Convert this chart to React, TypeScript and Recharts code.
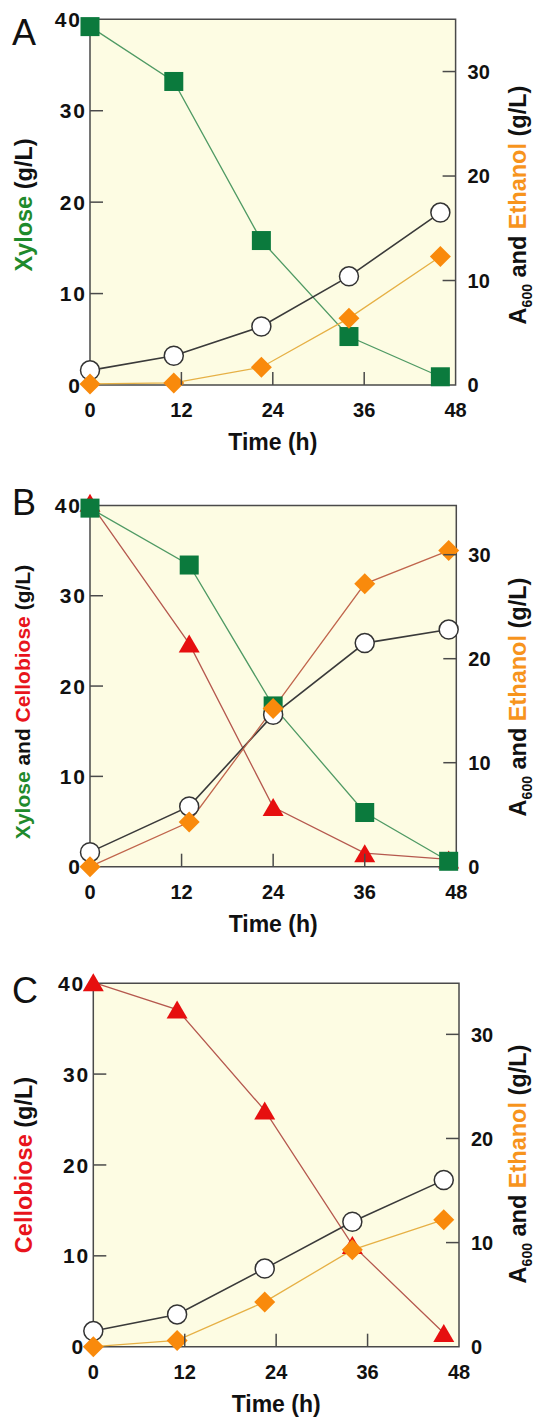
import React from "react";
import { LineChart, Line, XAxis, YAxis, ReferenceArea } from "recharts";

const W = 538;
const FONT = "'Liberation Sans', Arial, Helvetica, sans-serif";
const AXIS = "#4a4a4a";
const TICK = 13;

// sampling times (h) and measured values, per panel
const hoursA = [0, 11, 22.5, 34, 46];
const xyloseA = [39.2, 33.2, 15.8, 5.3, 0.9];
const odA = [1.4, 2.8, 5.6, 10.4, 16.5];
const ethanolA = [0.1, 0.2, 1.7, 6.4, 12.3];

const hoursB = [0, 13, 24, 36, 47];
const xyloseB = [39.7, 33.4, 17.8, 6.0, 0.6];
const cellobioseB = [40.3, 24.7, 6.6, 1.5, 0.8];
const odB = [1.4, 5.8, 14.6, 21.5, 22.8];
const ethanolB = [0, 4.3, 15.2, 27.2, 30.4];

const hoursC = [0, 11, 22.5, 34, 46];
const cellobioseC = [40.1, 37.1, 26.0, 11.2, 1.5];
const odC = [1.5, 3.1, 7.5, 12.0, 16.0];
const ethanolC = [0, 0.6, 4.3, 9.3, 12.2];

const hourTicks = [0, 12, 24, 36, 48];
const sugarTicks = [0, 10, 20, 30, 40];
const productTicks = [0, 10, 20, 30];

const GREEN = "#1f8a2c";
const RED = "#e8141c";
const ORANGE = "#f7941d";

const rowsA = hoursA.map((t, i) => ({ t, xylose: xyloseA[i], od: odA[i], ethanol: ethanolA[i] }));
const rowsB = hoursB.map((t, i) => ({
  t,
  xylose: xyloseB[i],
  cellobiose: cellobioseB[i],
  od: odB[i],
  ethanol: ethanolB[i],
}));
const rowsC = hoursC.map((t, i) => ({ t, cellobiose: cellobioseC[i], od: odC[i], ethanol: ethanolC[i] }));

// marker shapes
const square = (p: any) =>
  p.cx == null ? <g key={p.index} /> : (
    <rect key={p.index} x={p.cx - 9.5} y={p.cy - 9.5} width={19} height={19} fill="#0b7a3d" />
  );
const circle = (p: any) =>
  p.cx == null ? <g key={p.index} /> : (
    <circle key={p.index} cx={p.cx} cy={p.cy} r={9.5} fill="#fff" stroke="#333" strokeWidth={1.5} />
  );
const diamond = (p: any) =>
  p.cx == null ? <g key={p.index} /> : (
    <polygon
      key={p.index}
      points={`${p.cx},${p.cy - 10.5} ${p.cx + 10.5},${p.cy} ${p.cx},${p.cy + 10.5} ${p.cx - 10.5},${p.cy}`}
      fill="#f98a0c"
    />
  );
const triangle = (p: any) =>
  p.cx == null ? <g key={p.index} /> : (
    <polygon
      key={p.index}
      points={`${p.cx},${p.cy - 9} ${p.cx + 10.5},${p.cy + 9} ${p.cx - 10.5},${p.cy + 9}`}
      fill="#e60f0f"
    />
  );

const tickText = { fontFamily: FONT, fontWeight: 700, fontSize: 20, fill: "#111" };

const hourTick = (bottom: number) => (p: any) => {
  const v = p.payload.value;
  return (
    <g key={`h${v}`}>
      {v !== 0 && v !== 48 && (
        <line x1={p.x} x2={p.x} y1={bottom} y2={bottom - TICK} stroke={AXIS} strokeWidth={1.5} />
      )}
      <text x={p.x} y={bottom + 32} textAnchor="middle" {...tickText}>
        {v}
      </text>
    </g>
  );
};

const sugarTick = (left: number) => (p: any) => {
  const v = p.payload.value;
  const edge = v === 0 || v === 40;
  return (
    <g key={`s${v}`}>
      {!edge && <line x1={left} x2={left + TICK} y1={p.y} y2={p.y} stroke={AXIS} strokeWidth={1.5} />}
      <text
        x={left - (edge ? 8 : 3)}
        y={p.y}
        dy="0.36em"
        textAnchor="end"
        {...tickText}
        fontSize={21}
        letterSpacing={2}
      >
        {v}
      </text>
    </g>
  );
};

const productTick = (right: number) => (p: any) => {
  const v = p.payload.value;
  return (
    <g key={`p${v}`}>
      {v !== 0 && <line x1={right - TICK} x2={right} y1={p.y} y2={p.y} stroke={AXIS} strokeWidth={1.5} />}
      <text x={right + 12} y={p.y} dy="0.36em" textAnchor="start" {...tickText}>
        {v}
      </text>
    </g>
  );
};

type Geo = { height: number; left: number; right: number; top: number; bottom: number };

type SeriesDef = { key: string; axis: "left" | "right"; stroke: string; dot: (p: any) => any };

function Panel(props: {
  geo: Geo;
  rows: any[];
  series: SeriesDef[];
  letter: string;
  letterY: number;
  leftTitle: React.ReactNode;
  leftSize: number;
  leftX: number;
  leftY: number;
  rightY: number;
}) {
  const { geo, rows, series } = props;
  const midX = (geo.left + geo.right) / 2;
  return (
    <div style={{ position: "relative", width: W, height: geo.height }}>
      <LineChart
        width={W}
        height={geo.height}
        data={rows}
        margin={{ top: geo.top, right: 0, bottom: 0, left: 0 }}
      >
        <XAxis
          dataKey="t"
          type="number"
          domain={[0, 48]}
          ticks={hourTicks}
          interval={0}
          height={geo.height - geo.bottom}
          axisLine={false}
          tickLine={false}
          tick={hourTick(geo.bottom)}
        />
        <YAxis
          yAxisId="left"
          orientation="left"
          domain={[0, 40]}
          ticks={sugarTicks}
          interval={0}
          width={geo.left}
          axisLine={false}
          tickLine={false}
          tick={sugarTick(geo.left)}
        />
        <YAxis
          yAxisId="right"
          orientation="right"
          domain={[0, 35]}
          ticks={productTicks}
          interval={0}
          width={W - geo.right}
          axisLine={false}
          tickLine={false}
          tick={productTick(geo.right)}
        />
        <ReferenceArea
          yAxisId="left"
          x1={0}
          x2={48}
          y1={0}
          y2={40}
          fill="#fdfce3"
          fillOpacity={1}
          stroke={AXIS}
          strokeWidth={1.5}
        />
        {series.map((s) => (
          <Line
            key={s.key}
            yAxisId={s.axis}
            dataKey={s.key}
            type="linear"
            stroke={s.stroke}
            strokeWidth={s.key === "od" ? 1.6 : 1.3}
            dot={s.dot}
            activeDot={false}
            connectNulls
            isAnimationActive={false}
          />
        ))}
      </LineChart>
      <svg
        width={W}
        height={geo.height}
        style={{ position: "absolute", left: 0, top: 0, pointerEvents: "none" }}
        fontFamily={FONT}
      >
        <text x={12} y={props.letterY} fontSize={36} fill="#111">
          {props.letter}
        </text>
        <text
          transform={`translate(${props.leftX},${props.leftY}) rotate(-90)`}
          textAnchor="middle"
          fontSize={props.leftSize}
          fontWeight={700}
          fill="#111"
        >
          {props.leftTitle}
        </text>
        <text
          transform={`translate(526,${props.rightY}) rotate(-90)`}
          textAnchor="middle"
          fontSize={23.5}
          fontWeight={700}
          fill="#111"
        >
          <tspan>A</tspan>
          <tspan fontSize={14} dy={6}>
            600
          </tspan>
          <tspan dy={-6}> and </tspan>
          <tspan fill={ORANGE}>Ethanol</tspan>
          <tspan> (g/L)</tspan>
        </text>
        <text x={midX} y={geo.bottom + 65} textAnchor="middle" fontSize={23} fontWeight={700} fill="#111">
          Time (h)
        </text>
      </svg>
    </div>
  );
}

const seriesA: SeriesDef[] = [
  { key: "xylose", axis: "left", stroke: "#4f9a64", dot: square },
  { key: "od", axis: "right", stroke: "#3a3a3a", dot: circle },
  { key: "ethanol", axis: "right", stroke: "#e6b045", dot: diamond },
];
const seriesB: SeriesDef[] = [
  { key: "cellobiose", axis: "left", stroke: "#b5584e", dot: triangle },
  { key: "xylose", axis: "left", stroke: "#4f9a64", dot: square },
  { key: "od", axis: "right", stroke: "#3a3a3a", dot: circle },
  { key: "ethanol", axis: "right", stroke: "#c0654c", dot: diamond },
];
const seriesC: SeriesDef[] = [
  { key: "cellobiose", axis: "left", stroke: "#b5584e", dot: triangle },
  { key: "od", axis: "right", stroke: "#3a3a3a", dot: circle },
  { key: "ethanol", axis: "right", stroke: "#e6b045", dot: diamond },
];

export default function App() {
  return (
    <div style={{ position: "absolute", left: 0, top: 0, width: W, height: 1421, background: "#fff" }}>
      <Panel
        geo={{ height: 460, left: 90, right: 455.6, top: 19.3, bottom: 385 }}
        rows={rowsA}
        series={seriesA}
        letter="A"
        letterY={45}
        leftTitle={
          <>
            <tspan fill={GREEN}>Xylose</tspan>
            <tspan> (g/L)</tspan>
          </>
        }
        leftSize={23.5}
        leftX={32}
        leftY={205}
        rightY={205}
      />
      <Panel
        geo={{ height: 480, left: 90, right: 456.3, top: 42.7, bottom: 406.7 }}
        rows={rowsB}
        series={seriesB}
        letter="B"
        letterY={55}
        leftTitle={
          <>
            <tspan fill={GREEN}>Xylose</tspan>
            <tspan> and </tspan>
            <tspan fill={RED}>Cellobiose</tspan>
            <tspan> (g/L)</tspan>
          </>
        }
        leftSize={21}
        leftX={30}
        leftY={242}
        rightY={237}
      />
      <Panel
        geo={{ height: 481, left: 93.3, right: 459, top: 42.3, bottom: 406.7 }}
        rows={rowsC}
        series={seriesC}
        letter="C"
        letterY={63}
        leftTitle={
          <>
            <tspan fill={RED}>Cellobiose</tspan>
            <tspan> (g/L)</tspan>
          </>
        }
        leftSize={23.5}
        leftX={32}
        leftY={225}
        rightY={224}
      />
    </div>
  );
}
